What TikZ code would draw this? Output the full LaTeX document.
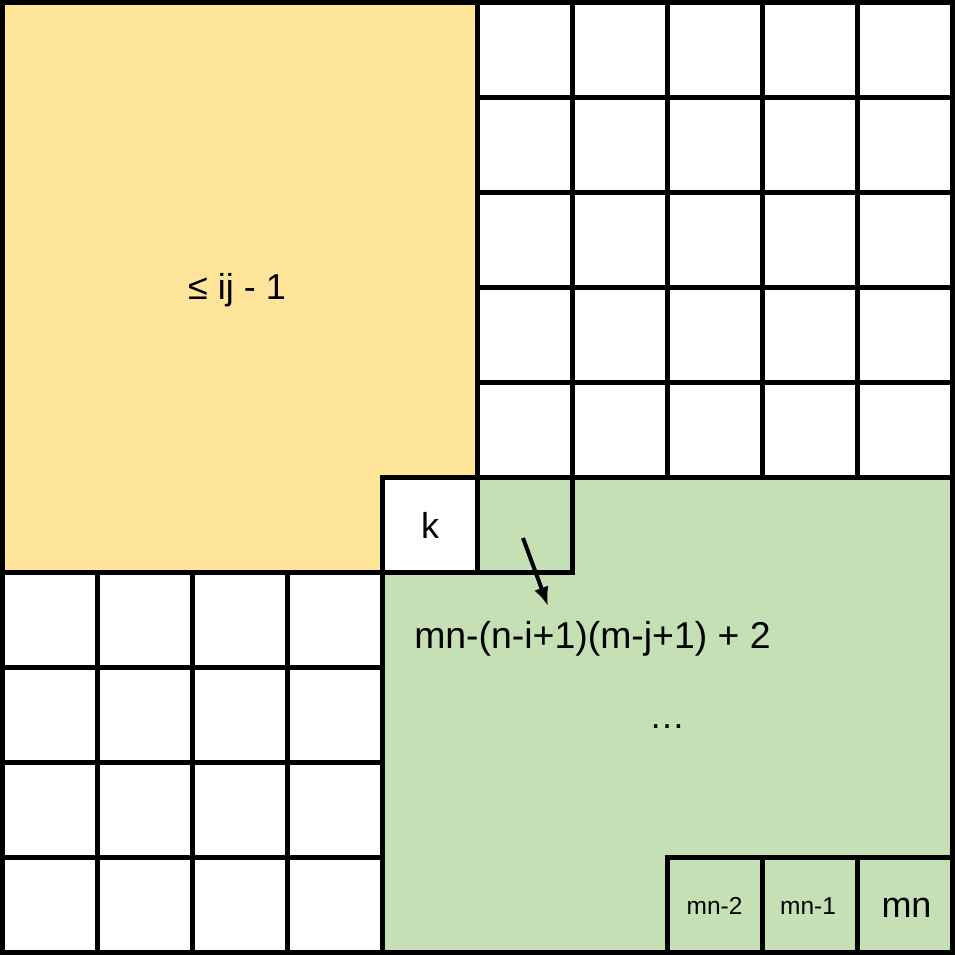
\documentclass[tikz,border=0pt]{standalone}
\usepackage{fontspec}
\setmainfont{Liberation Sans}
\usetikzlibrary{arrows.meta}
\definecolor{yellowfill}{HTML}{FFE599}
\definecolor{greenfill}{HTML}{C5E0B4}
\tikzset{
  gridline/.style={line width=5pt, line cap=rect, draw=black},
  bigtxt/.style={anchor=base, inner sep=0pt, font=\fontsize{36}{40}\selectfont},
  formtxt/.style={anchor=base, inner sep=0pt, font=\fontsize{37.4}{42}\selectfont},
  smalltxt/.style={anchor=base, inner sep=0pt, font=\fontsize{24.5}{28}\selectfont},
  pointer/.style={line width=4pt, -{Latex[length=19pt,width=15pt]}}
}
\begin{document}
\begin{tikzpicture}[x=1pt,y=-1pt]
\useasboundingbox (0,0) rectangle (955,955);
\fill[white] (0,0) rectangle (955,955);
% regions
\fill[yellowfill] (2.5,2.5) rectangle (477.5,572.5);
\fill[white] (382.5,477.5) rectangle (477.5,572.5);
\fill[greenfill] (477.5,477.5) -- (952.5,477.5) -- (952.5,952.5) -- (382.5,952.5) -- (382.5,572.5) -- (477.5,572.5) -- cycle;
% top-right grid
\foreach \x in {572.5,667.5,762.5,857.5} \draw[gridline] (\x,2.5) -- (\x,477.5);
\foreach \y in {97.5,192.5,287.5,382.5} \draw[gridline] (477.5,\y) -- (952.5,\y);
% bottom-left grid
\foreach \x in {97.5,192.5,287.5} \draw[gridline] (\x,572.5) -- (\x,952.5);
\foreach \y in {667.5,762.5,857.5} \draw[gridline] (2.5,\y) -- (382.5,\y);
% region borders
\draw[gridline] (477.5,2.5) -- (477.5,572.5);
\draw[gridline] (2.5,572.5) -- (572.5,572.5) -- (572.5,477.5);
\draw[gridline] (382.5,952.5) -- (382.5,477.5) -- (952.5,477.5);
% bottom-right cells
\draw[gridline] (667.5,952.5) -- (667.5,857.5) -- (952.5,857.5);
\foreach \x in {762.5,857.5} \draw[gridline] (\x,857.5) -- (\x,952.5);
% outer border
\draw[line width=5pt, line join=miter] (2.5,2.5) rectangle (952.5,952.5);
% texts
\node[bigtxt] (le) at (237,299) {≤ ij - 1};
\node[bigtxt] (k) at (430,538) {k};
\node[formtxt] (formula) at (592.5,648) {mn-(n-i+1)(m-j+1) + 2};
\node[bigtxt] (dots) at (667,728) {…};
\node[smalltxt] (mn2) at (714.5,914) {mn-2};
\node[smalltxt] (mn1) at (808,914) {mn-1};
\node[bigtxt] (mn) at (906.5,917) {mn};
% arrow
\coordinate (arrS) at (523,538);
\coordinate (arrE) at (548,606);
\draw[pointer] (arrS) -- (arrE);
\end{tikzpicture}
\end{document}
